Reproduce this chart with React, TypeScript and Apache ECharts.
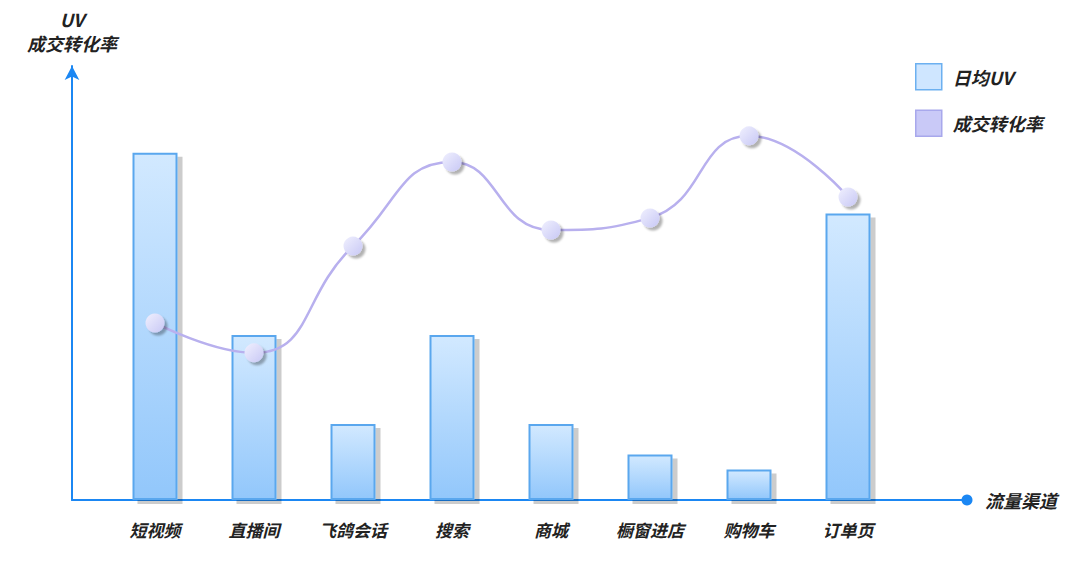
import React, { useEffect, useRef } from 'react';
import * as echarts from 'echarts';

const categories = ['短视频', '直播间', '飞鸽会话', '搜索', '商城', '橱窗进店', '购物车', '订单页'];
const uvValues = [80, 38, 17.5, 38, 17.5, 10.5, 7, 66];
const rateValues = [40.8, 33.9, 58.5, 77.9, 62.2, 65, 83.9, 69.8];

const FONT = '"Noto Sans CJK SC", "Noto Sans", sans-serif';
const AXIS_COLOR = '#1b87f3';

const labelStyle = {
  color: '#222',
  fontSize: 17,
  fontWeight: 'bold' as const,
  fontStyle: 'italic' as const,
  fontFamily: FONT,
};

const App: React.FC = () => {
  const chartRef = useRef<HTMLDivElement>(null);

  useEffect(() => {
    document.body.style.margin = '0';
    const myChart = echarts.init(chartRef.current!, null, { renderer: 'svg' });

    const option = {
      animation: false,
      backgroundColor: '#fff',
      legend: {
        orient: 'vertical',
        left: 915,
        top: 63,
        padding: 0,
        itemWidth: 26,
        itemHeight: 26,
        itemGap: 19,
        textStyle: { ...labelStyle, fontSize: 18, padding: [0, 0, 0, 6] },
        data: [
          {
            name: '日均UV',
            icon: 'rect',
            itemStyle: { color: '#cfe6ff', borderColor: '#6cb0f0', borderWidth: 1.5 },
          },
          {
            name: '成交转化率',
            icon: 'rect',
            itemStyle: { color: '#c9c9f7', borderColor: '#a8a8ec', borderWidth: 1.5 },
          },
        ],
      },
      grid: [
        { left: 105.5, right: 182.5, top: 66, bottom: 63 },
        { left: 72, right: 113, top: 66, bottom: 63 },
      ],
      xAxis: [
        {
          type: 'category',
          gridIndex: 0,
          data: categories,
          axisLine: { show: false },
          axisTick: { show: false },
          axisLabel: { ...labelStyle, margin: 21 },
        },
        {
          type: 'value',
          gridIndex: 1,
          min: 0,
          max: 1,
          name: '流量渠道',
          nameGap: 18,
          nameTextStyle: { ...labelStyle, fontSize: 18 },
          axisLine: {
            show: true,
            lineStyle: { color: AXIS_COLOR, width: 2 },
            symbol: ['none', 'circle'],
            symbolSize: [11, 11],
          },
          axisTick: { show: false },
          axisLabel: { show: false },
          splitLine: { show: false },
        },
      ],
      yAxis: [
        { type: 'value', gridIndex: 0, min: 0, max: 100, show: false },
        { type: 'value', gridIndex: 0, min: 0, max: 100, show: false },
        {
          type: 'value',
          gridIndex: 1,
          min: 0,
          max: 1,
          name: 'UV\n成交转化率',
          nameGap: 11,
          nameTextStyle: { ...labelStyle, fontSize: 18, lineHeight: 24, align: 'center' },
          axisLine: {
            show: true,
            lineStyle: { color: AXIS_COLOR, width: 2 },
            symbol: ['none', 'arrow'],
            symbolSize: [11, 14],
          },
          axisTick: { show: false },
          axisLabel: { show: false },
          splitLine: { show: false },
        },
      ],
      series: [
        {
          name: '日均UV',
          type: 'bar',
          xAxisIndex: 0,
          yAxisIndex: 0,
          barWidth: 45,
          data: uvValues,
          itemStyle: {
            color: new echarts.graphic.LinearGradient(0, 0, 0, 1, [
              { offset: 0, color: '#d2e9ff' },
              { offset: 1, color: '#92c7fb' },
            ]),
            borderColor: '#5aa7ee',
            borderWidth: 2,
            shadowColor: 'rgba(0,0,0,0.2)',
            shadowOffsetX: 5,
            shadowOffsetY: 4,
            shadowBlur: 1,
          },
        },
        {
          name: '成交转化率',
          type: 'line',
          xAxisIndex: 0,
          yAxisIndex: 1,
          smooth: true,
          data: rateValues,
          symbol: 'circle',
          symbolSize: 19,
          z: 5,
          lineStyle: { color: '#b8b0ee', width: 2.5 },
          itemStyle: {
            color: new echarts.graphic.LinearGradient(0, 0, 1, 1, [
              { offset: 0, color: '#f0f0fe' },
              { offset: 1, color: '#c8c8f5' },
            ]),
            borderWidth: 0,
            shadowColor: 'rgba(0,0,0,0.3)',
            shadowOffsetX: 3,
            shadowOffsetY: 3,
            shadowBlur: 2,
          },
        },
      ],
    };

    myChart.setOption(option);

    return () => {
      myChart.dispose();
    };
  }, []);

  return <div ref={chartRef} style={{ width: '1080px', height: '563px' }} />;
};

export default App;
